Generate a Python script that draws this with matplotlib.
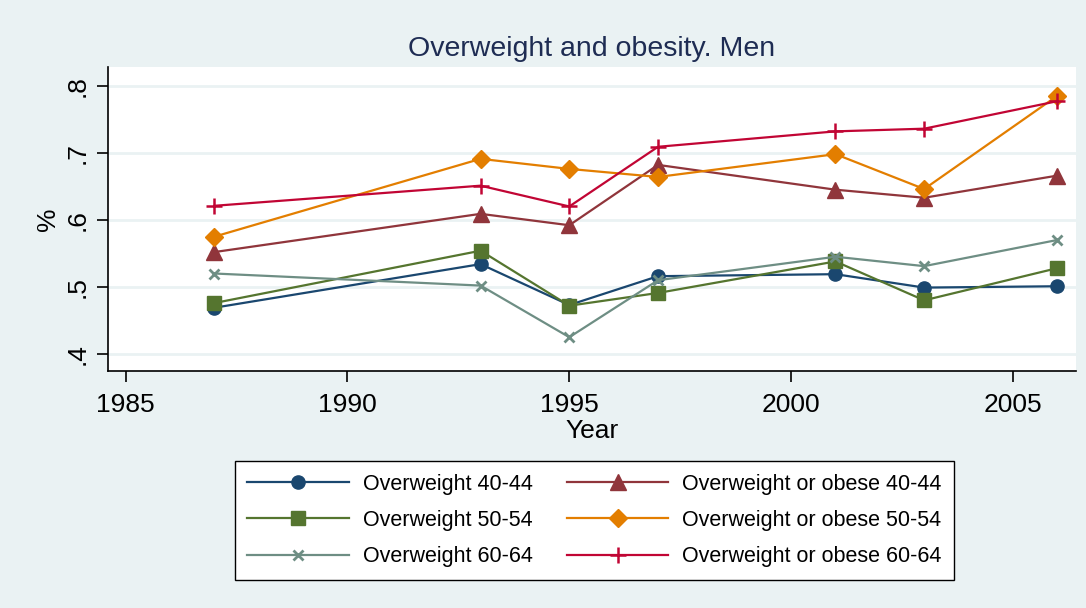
import matplotlib
matplotlib.use("Agg")
import matplotlib.pyplot as plt

plt.rcParams["font.family"] = ["Liberation Sans", "DejaVu Sans"]

years = [1987, 1993, 1995, 1997, 2001, 2003, 2006]

ow_40_44 = [0.469, 0.534, 0.473, 0.516, 0.519, 0.499, 0.501]
ow_50_54 = [0.476, 0.554, 0.472, 0.491, 0.538, 0.480, 0.528]
ow_60_64 = [0.520, 0.502, 0.425, 0.510, 0.545, 0.531, 0.570]
ob_40_44 = [0.552, 0.609, 0.592, 0.682, 0.645, 0.633, 0.666]
ob_50_54 = [0.575, 0.691, 0.676, 0.664, 0.698, 0.646, 0.785]
ob_60_64 = [0.621, 0.651, 0.620, 0.709, 0.732, 0.736, 0.777]

labels = ["Overweight 40-44", "Overweight 50-54", "Overweight 60-64",
          "Overweight or obese 40-44", "Overweight or obese 50-54",
          "Overweight or obese 60-64"]

xticks = [1985, 1990, 1995, 2000, 2005]
yticks = [0.4, 0.5, 0.6, 0.7, 0.8]
yticklabels = [".4", ".5", ".6", ".7", ".8"]

bg = "#EAF2F3"
fig = plt.figure(figsize=(10.86, 6.08), dpi=100, facecolor=bg)
ax = fig.add_axes([0.0994, 0.3898, 0.8913, 0.5])
ax.set_facecolor("white")

styles = [
    dict(color="#1A476F", marker="o", ms=9.5),
    dict(color="#55752F", marker="s", ms=9.5),
    dict(color="#6E8E84", marker="x", ms=6.5, mew=2),
    dict(color="#90353B", marker="^", ms=11.5),
    dict(color="#E37E00", marker="D", ms=9.5),
    dict(color="#C10534", marker="+", ms=11, mew=1.8),
]
series = [ow_40_44, ow_50_54, ow_60_64, ob_40_44, ob_50_54, ob_60_64]

for vals, lab, st in zip(series, labels, styles):
    ax.plot(years, vals, lw=1.6, label=lab, **st)

ax.set_xlim(1984.6, 2006.42)
ax.set_ylim(0.3746, 0.828)
ax.set_xticks(xticks)
ax.set_yticks(yticks)
ax.set_yticklabels(yticklabels, rotation=90, va="center")
ax.grid(axis="y", color=bg, lw=2)
ax.set_axisbelow(True)

for s in ["top", "right"]:
    ax.spines[s].set_visible(False)
for s in ["left", "bottom"]:
    ax.spines[s].set_linewidth(1.2)
ax.tick_params(axis="both", labelsize=19, length=8, width=1.2, pad=5)
ax.tick_params(axis="x", pad=8)

ax.set_xlabel("Year", fontsize=19, labelpad=1)
ax.set_ylabel("%", fontsize=19, labelpad=4)
ax.set_title("Overweight and obesity. Men", fontsize=20.5, color="#1E2C53", pad=8)

leg = fig.legend(ncol=2, loc="center", bbox_to_anchor=(0.5474, 0.1439),
                 fontsize=15.5, frameon=True, fancybox=False, framealpha=1,
                 handlelength=4.7, handletextpad=0.65, columnspacing=1.6,
                 labelspacing=0.7, borderpad=0.6)
leg.get_frame().set_edgecolor("black")
leg.get_frame().set_linewidth(1.0)
leg.get_frame().set_facecolor("white")

fig.savefig("out.png", dpi=100, facecolor=bg)
